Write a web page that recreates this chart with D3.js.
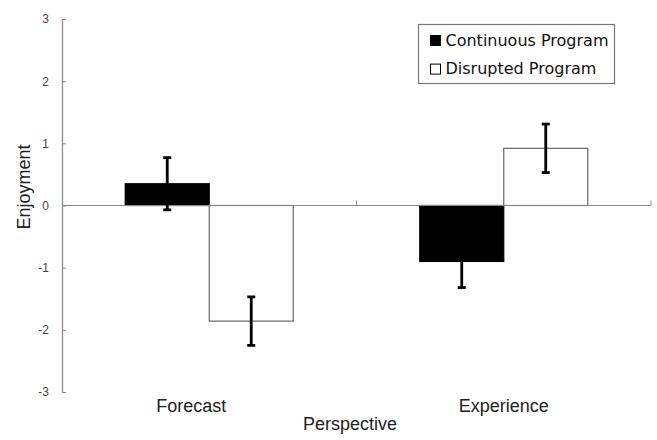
<!DOCTYPE html>
<html>
<head>
<meta charset="utf-8">
<script src="https://cdn.jsdelivr.net/npm/d3@7"></script>
<style>
  body { margin: 0; background: #fff; }
  svg { display: block; }
</style>
</head>
<body>
<div class="canvas"></div>
<script>
// chart data
const categories = ['Forecast', 'Experience'];
const seriesNames = ['Continuous Program', 'Disrupted Program'];
const continuousMeans = [0.35, -0.90];
const continuousErrors = [0.42, 0.42];
const disruptedMeans = [-1.86, 0.92];
const disruptedErrors = [0.39, 0.39];
const yTicks = [-3, -2, -1, 0, 1, 2, 3];

const dims = { w: 657, h: 440 };
const margin = { top: 19, right: 6, bottom: 48, left: 62 };

const svg = d3.select('.canvas')
  .append('svg')
    .attr('width', dims.w)
    .attr('height', dims.h);

// scales
const x0 = d3.scaleBand()
  .domain(categories)
  .range([margin.left, dims.w - margin.right])
  .padding(0);

const x1 = d3.scaleBand()
  .domain(seriesNames)
  .range([0, x0.bandwidth()])
  .paddingInner(0)
  .paddingOuter(0.753);

const y = d3.scaleLinear()
  .domain([-3, 3])
  .range([dims.h - margin.bottom, margin.top]);

const fills = { 'Continuous Program': '#000', 'Disrupted Program': '#fff' };

// flatten rows for bars
const rows = [];
categories.forEach((c, i) => {
  rows.push({ cat: c, series: seriesNames[0], value: continuousMeans[i], err: continuousErrors[i] });
  rows.push({ cat: c, series: seriesNames[1], value: disruptedMeans[i], err: disruptedErrors[i] });
});

// y axis (plain hyphen minus like the original)
const yAxis = d3.axisLeft(y)
  .tickValues(yTicks)
  .tickSize(-4)
  .tickPadding(13)
  .tickFormat(d => String(d));

const yG = svg.append('g')
  .attr('transform', `translate(${margin.left},0)`)
  .call(yAxis);

yG.select('.domain').attr('stroke', '#888').attr('stroke-width', 1.2);
yG.selectAll('.tick line').attr('stroke', '#888');
yG.selectAll('.tick text')
  .attr('fill', '#444')
  .style('font-family', 'Liberation Sans, Arial, sans-serif')
  .style('font-size', '12px');

// bars
svg.append('g')
  .selectAll('rect')
  .data(rows)
  .join('rect')
    .attr('x', d => x0(d.cat) + x1(d.series))
    .attr('y', d => y(Math.max(0, d.value)))
    .attr('width', x1.bandwidth())
    .attr('height', d => Math.abs(y(d.value) - y(0)))
    .attr('fill', d => fills[d.series])
    .attr('stroke', d => d.series === seriesNames[0] ? '#000' : '#666')
    .attr('stroke-width', 1.2);

// x axis along zero
const xG = svg.append('g').attr('class', 'x-axis');
xG.append('line')
  .attr('x1', x0.range()[0])
  .attr('x2', x0.range()[1])
  .attr('y1', y(0))
  .attr('y2', y(0))
  .attr('stroke', '#888')
  .attr('stroke-width', 1.2);

xG.selectAll('.xtick')
  .data(categories)
  .join('line')
    .attr('class', 'xtick')
    .attr('x1', d => x0(d) + x0.bandwidth())
    .attr('x2', d => x0(d) + x0.bandwidth())
    .attr('y1', y(0))
    .attr('y2', y(0) - 5)
    .attr('stroke', '#888');

// error bars
const capW = 8;
const errG = svg.append('g')
  .selectAll('g')
  .data(rows)
  .join('g')
    .attr('transform', d => `translate(${x0(d.cat) + x1(d.series) + x1.bandwidth() / 2},0)`)
    .attr('stroke', '#000')
    .attr('stroke-width', 2.8);

errG.append('line')
  .attr('y1', d => y(d.value + d.err))
  .attr('y2', d => y(d.value - d.err));

errG.append('line')
  .attr('x1', -capW / 2).attr('x2', capW / 2)
  .attr('y1', d => y(d.value + d.err))
  .attr('y2', d => y(d.value + d.err));

errG.append('line')
  .attr('x1', -capW / 2).attr('x2', capW / 2)
  .attr('y1', d => y(d.value - d.err))
  .attr('y2', d => y(d.value - d.err));

// category labels
svg.append('g')
  .selectAll('text')
  .data(categories)
  .join('text')
    .attr('x', d => x0(d) + x0.bandwidth() / 2)
    .attr('dx', (d, i) => i === 0 ? -18 : 0)
    .attr('y', 412)
    .attr('text-anchor', 'middle')
    .attr('fill', '#222')
    .style('font-family', 'Liberation Sans, Arial, sans-serif')
    .style('font-size', '18px')
    .text(d => d);

// axis titles
svg.append('text')
  .attr('x', 350)
  .attr('y', 430)
  .attr('text-anchor', 'middle')
  .attr('fill', '#222')
  .style('font-family', 'Liberation Sans, Arial, sans-serif')
  .style('font-size', '18px')
  .text('Perspective');

svg.append('text')
  .attr('transform', 'translate(30,187) rotate(-90)')
  .attr('text-anchor', 'middle')
  .attr('fill', '#222')
  .style('font-family', 'Liberation Sans, Arial, sans-serif')
  .style('font-size', '18px')
  .text('Enjoyment');

// legend
const legendGroup = svg.append('g')
  .attr('transform', 'translate(418.5,24.5)');

legendGroup.append('rect')
  .attr('width', 196)
  .attr('height', 59)
  .attr('fill', '#fff')
  .attr('stroke', '#777')
  .attr('stroke-width', 1.2);

const items = legendGroup.selectAll('g.item')
  .data(seriesNames)
  .join('g')
    .attr('class', 'item')
    .attr('transform', (d, i) => `translate(12,${11 + i * 28.6})`);

items.append('rect')
  .attr('width', 10)
  .attr('height', 10)
  .attr('fill', d => fills[d])
  .attr('stroke', '#000')
  .attr('stroke-width', 1);

items.append('text')
  .attr('x', 15)
  .attr('y', 10)
  .attr('fill', '#111')
  .style('font-family', 'DejaVu Sans, sans-serif')
  .style('font-size', '16px')
  .text(d => d);
</script>
</body>
</html>
